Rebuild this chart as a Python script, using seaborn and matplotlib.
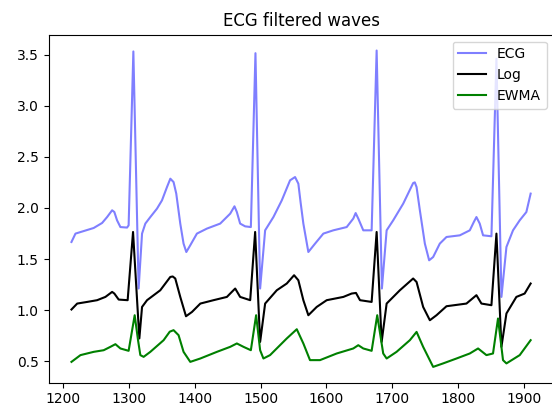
import matplotlib
matplotlib.use("Agg")
import matplotlib.pyplot as plt
import seaborn as sns

# values (keypoints of each trace)
ecg_x = [1212.6, 1218.7, 1231.3, 1246.4, 1259.2, 1266.8, 1274.4, 1277.8, 1281.9, 1287.0,
         1297.1, 1299.5, 1306.7, 1314.7, 1319.9, 1324.9, 1332.5, 1342.6, 1350.2, 1357.8,
         1362.9, 1367.8, 1371.9, 1378.0, 1383.0, 1387.2, 1393.2, 1403.3, 1418.5, 1438.7,
         1453.9, 1460.4, 1464.0, 1469.0, 1476.6, 1485.3, 1492.3, 1499.4, 1507.0, 1519.6,
         1532.3, 1544.9, 1552.5, 1557.5, 1561.0, 1565.1, 1572.7, 1582.9, 1595.5, 1610.6,
         1631.0, 1641.0, 1644.6, 1648.6, 1656.2, 1668.9, 1676.5, 1684.5, 1691.7, 1701.7,
         1716.9, 1732.0, 1734.5, 1737.2, 1742.2, 1749.8, 1756.3, 1762.4, 1772.5, 1782.7,
         1802.9, 1818.1, 1824.2, 1828.2, 1833.2, 1838.3, 1851.0, 1858.6, 1866.2, 1873.8,
         1883.8, 1894.0, 1904.1, 1910.6]
ecg_y = [1.667, 1.749, 1.774, 1.804, 1.853, 1.911, 1.977, 1.960, 1.879, 1.813,
         1.808, 1.830, 3.530, 1.212, 1.749, 1.847, 1.911, 1.993, 2.074, 2.204,
         2.286, 2.253, 2.140, 1.847, 1.651, 1.569, 1.635, 1.749, 1.798, 1.847,
         1.944, 2.016, 1.960, 1.847, 1.820, 1.813, 3.513, 1.212, 1.781, 1.911,
         2.074, 2.270, 2.302, 2.237, 2.050, 1.847, 1.569, 1.651, 1.749, 1.781,
         1.813, 1.896, 1.950, 1.896, 1.781, 1.781, 3.539, 1.212, 1.781, 1.879,
         2.042, 2.243, 2.250, 2.204, 1.977, 1.651, 1.488, 1.520, 1.651, 1.716,
         1.732, 1.781, 1.862, 1.911, 1.847, 1.732, 1.723, 3.458, 1.130, 1.618,
         1.781, 1.879, 1.960, 2.140]

log_x = [1212.6, 1221.3, 1236.4, 1251.6, 1264.2, 1274.4, 1277.8, 1284.4, 1298.0, 1306.2,
         1315.8, 1319.9, 1327.5, 1347.6, 1362.8, 1366.5, 1370.4, 1378.0, 1386.7, 1395.8,
         1408.5, 1428.5, 1448.9, 1453.9, 1461.5, 1469.0, 1484.3, 1491.8, 1499.4, 1507.0,
         1524.7, 1539.9, 1551.0, 1557.5, 1565.1, 1572.7, 1585.4, 1600.6, 1625.9, 1638.5,
         1645.1, 1651.2, 1668.9, 1676.5, 1684.1, 1691.7, 1711.8, 1732.0, 1737.2, 1747.2,
         1757.4, 1767.5, 1782.7, 1813.0, 1828.2, 1835.8, 1851.0, 1858.6, 1866.2, 1873.8,
         1888.9, 1901.5, 1910.6]
log_y = [1.007, 1.065, 1.081, 1.098, 1.130, 1.179, 1.163, 1.104, 1.098, 1.765,
         0.724, 1.032, 1.098, 1.195, 1.325, 1.330, 1.310, 1.130, 0.941, 0.983,
         1.065, 1.098, 1.130, 1.163, 1.212, 1.130, 1.098, 1.765, 0.690, 1.065,
         1.195, 1.261, 1.342, 1.293, 1.098, 0.951, 1.032, 1.098, 1.130, 1.163,
         1.169, 1.098, 1.081, 1.765, 0.690, 1.065, 1.195, 1.310, 1.276, 1.032,
         0.902, 0.951, 1.039, 1.065, 1.147, 1.065, 1.049, 1.749, 0.642, 0.968,
         1.130, 1.163, 1.261]

ewma_x = [1212.6, 1226.3, 1246.4, 1261.6, 1271.8, 1279.4, 1287.0, 1299.5, 1308.7, 1313.8,
          1317.3, 1322.3, 1332.5, 1352.7, 1362.0, 1367.8, 1375.4, 1383.0, 1393.2, 1408.5,
          1433.7, 1453.9, 1464.0, 1474.1, 1485.3, 1493.3, 1499.4, 1504.4, 1514.5, 1539.9,
          1555.1, 1565.1, 1575.2, 1590.4, 1615.8, 1641.0, 1648.6, 1656.2, 1668.9, 1677.4,
          1686.5, 1691.7, 1706.8, 1727.0, 1737.2, 1747.2, 1762.4, 1777.6, 1797.9, 1818.1,
          1830.7, 1843.4, 1853.4, 1861.0, 1868.6, 1873.8, 1894.0, 1910.6]
ewma_y = [0.495, 0.561, 0.593, 0.609, 0.642, 0.668, 0.626, 0.603, 0.951, 0.707,
          0.561, 0.544, 0.593, 0.707, 0.790, 0.805, 0.756, 0.593, 0.495, 0.528,
          0.593, 0.642, 0.675, 0.642, 0.609, 0.951, 0.609, 0.528, 0.561, 0.724,
          0.814, 0.675, 0.512, 0.512, 0.577, 0.626, 0.658, 0.626, 0.603, 0.951,
          0.577, 0.528, 0.593, 0.707, 0.788, 0.642, 0.446, 0.480, 0.528, 0.577,
          0.626, 0.561, 0.577, 0.919, 0.512, 0.480, 0.561, 0.707]

fig = plt.figure(figsize=(5.52, 4.05), dpi=100)
ax = fig.add_axes([48.5 / 552, 1 - 382.7 / 405, (553.6 - 48.5) / 552, 348 / 405])

sns.lineplot(x=ecg_x, y=ecg_y, ax=ax, color="blue", alpha=0.5, label="ECG")
sns.lineplot(x=log_x, y=log_y, ax=ax, color="black", label="Log")
sns.lineplot(x=ewma_x, y=ewma_y, ax=ax, color="green", label="EWMA")

ax.set_title("ECG filtered waves")
ax.legend(loc="upper right")

fig.savefig("out.png", dpi=100)
